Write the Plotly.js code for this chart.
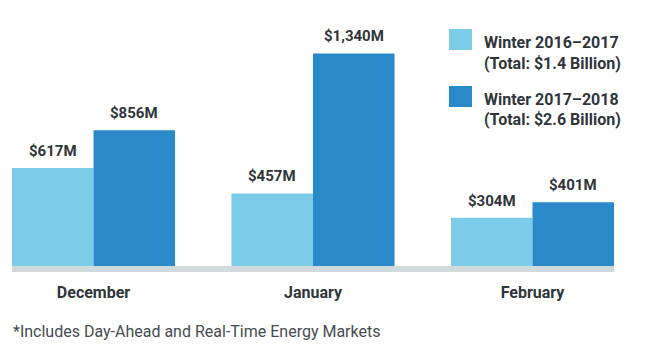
<!DOCTYPE html>
<html>
<head>
<meta charset="utf-8">
<script src="https://cdn.plot.ly/plotly-3.0.1.min.js"></script>
<style>html,body{margin:0;padding:0;background:#fff;}#chart{width:650px;height:354px;}</style>
</head>
<body>
<div id="chart"></div>
<script>
const categories = ["December", "January", "February"];
const winter1617 = [617, 457, 304];
const winter1718 = [856, 1340, 401];
const seriesNames = ["Winter 2016–2017", "Winter 2017–2018"];
const seriesTotals = ["(Total: $1.4 Billion)", "(Total: $2.6 Billion)"];
const footnote = "*Includes Day-Ahead and Real-Time Energy Markets";

const colors = ["#7ccbe8", "#2a89c8"];
const textColor = "#30353a";
const W = 650, H = 354;
const M = {l: 12, r: 36, t: 28, b: 88};
const plotW = W - M.l - M.r, plotH = H - M.t - M.b;
const bargap = 0.257;
const barW = (1 - bargap) / 2;
const half = (1 - bargap) / 2;

function fmt(v) { return "$" + v.toLocaleString("en-US") + "M"; }
function px2x(px) { return (px - M.l) / plotW; }
function py2y(py) { return (H - M.b - py) / plotH; }

const series = [winter1617, winter1718];
const traces = series.map((vals, i) => ({
  type: "bar",
  name: seriesNames[i],
  x: categories,
  y: vals,
  marker: {color: colors[i]},
  hoverinfo: "skip"
}));

const annotations = [];
series.forEach((vals, i) => {
  vals.forEach((v, j) => {
    annotations.push({
      x: j + (i === 0 ? -1 : 1) * barW / 2,
      y: v, xref: "x", yref: "y",
      text: fmt(v), showarrow: false,
      yanchor: "middle", yshift: 17,
      font: {family: "Roboto", size: 15, weight: 700, color: textColor}
    });
  });
});

const shapes = [];
const legendTops = [29, 86];
seriesNames.forEach((name, i) => {
  const top = legendTops[i];
  shapes.push({
    type: "rect", xref: "paper", yref: "paper",
    x0: px2x(449), x1: px2x(472), y0: py2y(top + 21), y1: py2y(top),
    fillcolor: colors[i], line: {width: 0}
  });
  [name, seriesTotals[i]].forEach((line, k) => {
    annotations.push({
      xref: "paper", yref: "paper",
      x: px2x(482), y: py2y(top + 13 + k * 21), xanchor: "left", yanchor: "middle",
      align: "left", showarrow: false,
      text: line,
      font: {family: "Roboto", size: 16, weight: 700, color: textColor}
    });
  });
});

annotations.push({
  xref: "paper", yref: "paper",
  x: px2x(11), y: py2y(331), xanchor: "left", yanchor: "middle",
  showarrow: false, text: footnote,
  font: {family: "Roboto", size: 16, color: "#464b50"}
});

const layout = {
  width: W, height: H,
  margin: M,
  paper_bgcolor: "#fff", plot_bgcolor: "#fff",
  barmode: "group", bargap: bargap, bargroupgap: 0,
  showlegend: false,
  xaxis: {
    type: "category",
    range: [-0.5 + (1 - 2 * half) / 2, 2.5 - (1 - 2 * half) / 2],
    showgrid: false, zeroline: false,
    showline: true, linecolor: "#d0d9dc", linewidth: 6,
    ticks: "", ticklabelstandoff: 7,
    tickfont: {family: "Roboto", size: 16, weight: 700, color: textColor},
    fixedrange: true
  },
  yaxis: {
    range: [0, 1500], visible: false, showgrid: false, zeroline: false, fixedrange: true
  },
  shapes: shapes,
  annotations: annotations,
  hovermode: false
};

Plotly.newPlot("chart", traces, layout, {staticPlot: true, displayModeBar: false});
</script>
</body>
</html>
